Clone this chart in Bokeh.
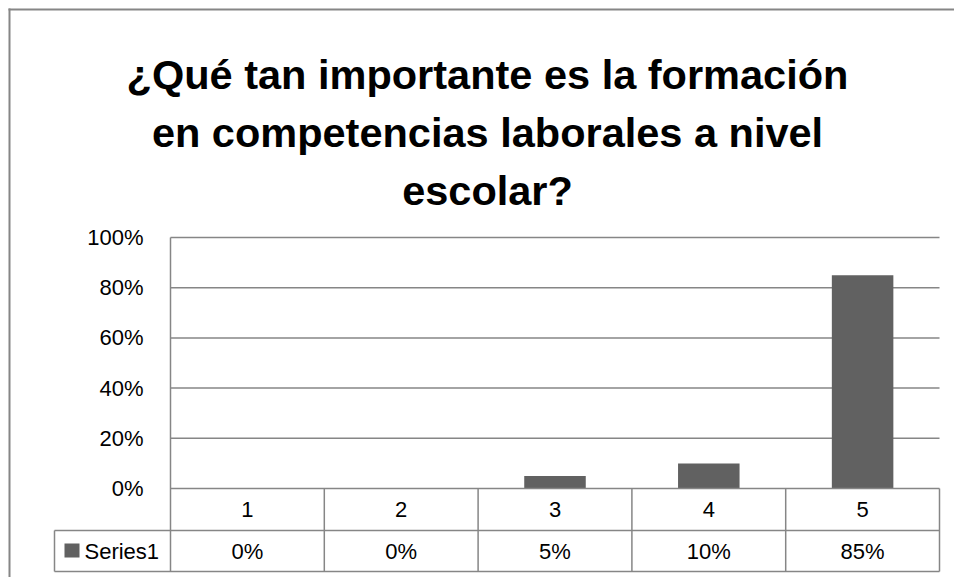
from bokeh.plotting import figure
from bokeh.models import Range1d
from bokeh.core.properties import value
from bokeh.embed import file_html
from bokeh.resources import INLINE

# ---- data ----
title_lines = ["¿Qué tan importante es la formación",
               "en competencias laborales a nivel",
               "escolar?"]
categories = ["1", "2", "3", "4", "5"]
values = [0, 0, 5, 10, 85]
series_name = "Series1"
y_ticks = [0, 20, 40, 60, 80, 100]
y_tick_labels = ["0%", "20%", "40%", "60%", "80%", "100%"]
value_labels = ["0%", "0%", "5%", "10%", "85%"]

# ---- layout (page pixels) ----
W, H = 954, 577
OX, OY = 0, 0
BX, BY = 8, 8            # chart border position
PL, PR, PT, PB = 170, 939, 237, 488
ROW1, ROW2 = 530, 571
TBL_L = 54
n = len(categories)
cw = (PR - PL) / n
yu = (PB - PT) / (y_ticks[-1] - y_ticks[0])


def X(px):
    return 0.5 + (px - PL) / cw


def Y(py):
    return (PB - py) / yu


GRAY = "#868686"
BAR = "#616161"
FONT = value("Liberation Sans")

p = figure(width=W, height=H,
           x_range=Range1d(X(OX), X(OX + W)),
           y_range=Range1d(Y(OY + H), Y(OY)),
           min_border=0, output_backend="svg", toolbar_location=None,
           x_axis_location=None, y_axis_location=None,
           outline_line_color=None, background_fill_color="white",
           border_fill_color="white")
p.xgrid.visible = False
p.ygrid.visible = False

xs = [i + 1 for i in range(n)]

# outer chart border (left and top)
p.segment(x0=[X(BX + 1), X(BX)], x1=[X(BX + 1), X(OX + W)],
          y0=[Y(BY), Y(BY + 1)], y1=[Y(OY + H), Y(BY + 1)],
          line_color=GRAY, line_width=2)

# gridlines
grid_vals = [t for t in y_ticks if t > 0]
p.segment(x0=[0.5] * len(grid_vals), x1=[n + 0.5] * len(grid_vals),
          y0=grid_vals, y1=grid_vals, line_color=GRAY, line_width=1.5)

# bars
p.vbar(x=xs, top=values, bottom=0, width=0.4, fill_color=BAR, line_color=None)

# data table lines
hx0 = [0.5, X(TBL_L), X(TBL_L)]
hy = [0, Y(ROW1), Y(ROW2)]
p.segment(x0=hx0, x1=[n + 0.5] * 3, y0=hy, y1=hy, line_color=GRAY, line_width=1.5)
vx = [i + 0.5 for i in range(n + 1)]
p.segment(x0=vx, x1=vx, y0=[y_ticks[-1]] + [0] * n, y1=[Y(ROW2)] * (n + 1),
          line_color=GRAY, line_width=1.5)
p.segment(x0=[X(TBL_L)], x1=[X(TBL_L)], y0=[Y(ROW1)], y1=[Y(ROW2)],
          line_color=GRAY, line_width=1.5)

# y tick labels
p.text(x=[X(143)] * len(y_ticks), y=y_ticks, text=y_tick_labels,
       text_font=FONT, text_font_size="22px", text_align="right",
       text_baseline="middle", text_color="black")

# category labels & values
p.text(x=xs, y=[Y(509)] * n, text=categories, text_font=FONT,
       text_font_size="22px", text_align="center", text_baseline="middle",
       text_color="black")
p.text(x=xs, y=[Y(550.5)] * n, text=value_labels, text_font=FONT,
       text_font_size="22px", text_align="center", text_baseline="middle",
       text_color="black")

# legend key + series name
p.quad(left=[X(64)], right=[X(79)], top=[Y(543)], bottom=[Y(557)],
       fill_color=BAR, line_color=None)
p.text(x=[X(84)], y=[Y(550.5)], text=[series_name], text_font=FONT,
       text_font_size="22px", text_align="left", text_baseline="middle",
       text_color="black")

# title
p.text(x=[X(487)] * 3, y=[Y(74), Y(132), Y(190)], text=title_lines,
       text_font=FONT, text_font_size="41.5px", text_font_style="bold",
       text_align="center", text_baseline="alphabetic", text_color="black")

open("out.html", "w").write(file_html(p, INLINE))
